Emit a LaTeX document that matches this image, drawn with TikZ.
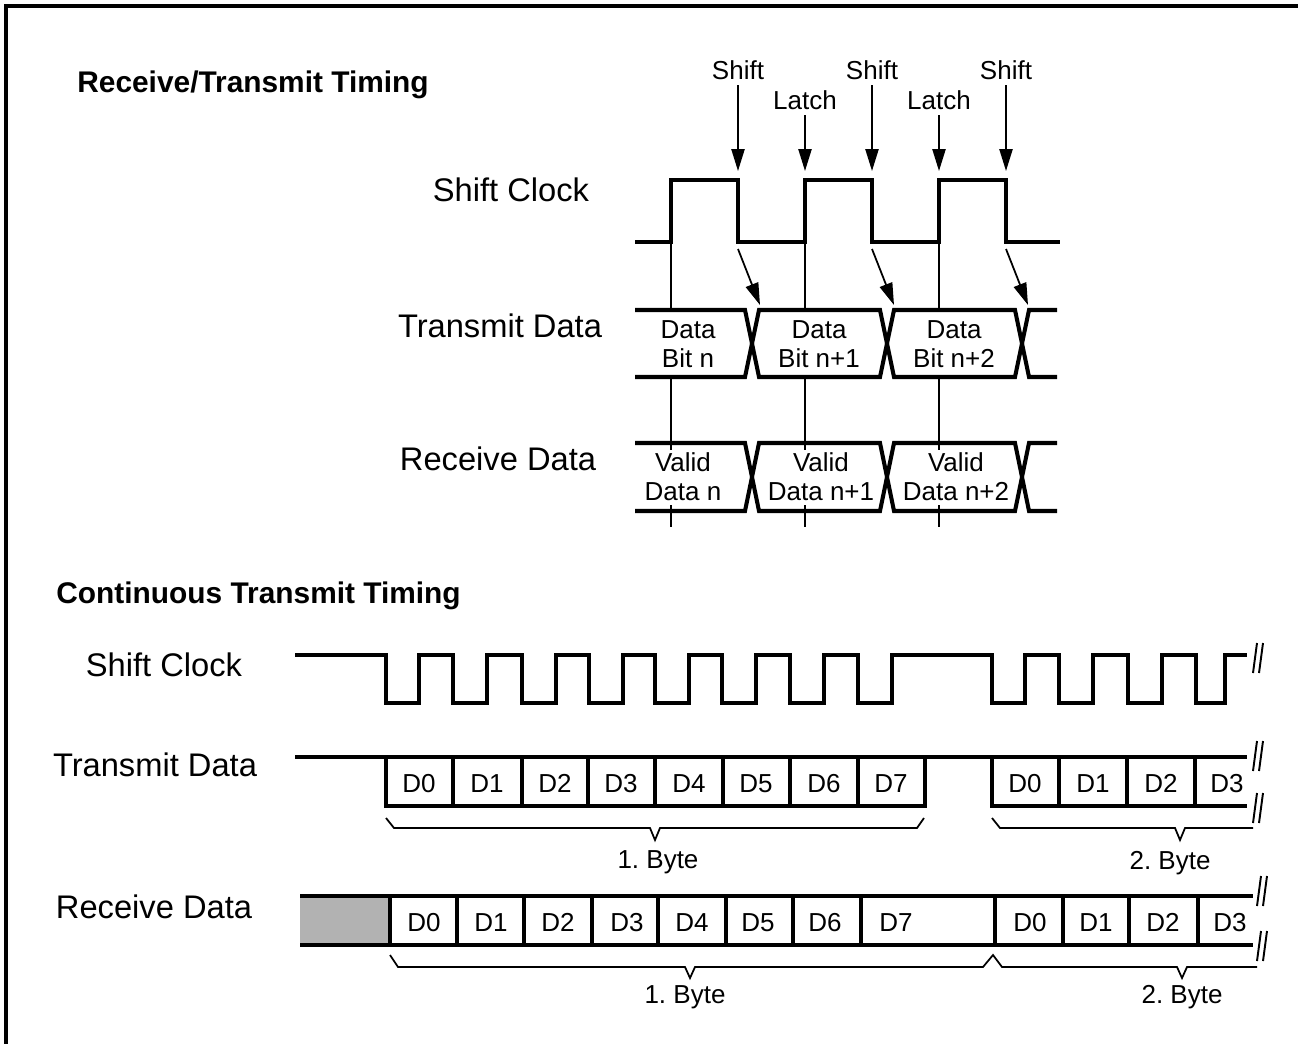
\documentclass[tikz,border=0pt]{standalone}
\usepackage{fontspec}
\setmainfont{Liberation Sans}
\usetikzlibrary{arrows.meta}
\frenchspacing
\begin{document}
\begin{tikzpicture}[x=0.02cm,y=-0.02cm,
  sig/.style={line width=2.3pt},
  thinline/.style={line width=1pt},
  brk/.style={line width=1.1pt},
  brace/.style={line width=1pt},
  arr/.style={line width=1pt,-{Triangle[length=12.5pt,width=7.5pt]}},
  big/.style={font=\fontsize{18.6}{22}\selectfont,inner sep=0pt},
  lbl/.style={font=\fontsize{14.8}{16.4}\selectfont,inner sep=0pt,align=center},
  dlbl/.style={font=\fontsize{14.8}{16.4}\selectfont,inner sep=0pt,text height=10.6pt,text depth=0pt},
  ttl/.style={font=\fontsize{17}{20}\selectfont\bfseries,inner sep=0pt,anchor=west},
]
\useasboundingbox (0,0) rectangle (1298,1044);
% frame
\draw[line width=1.8pt] (6,1044) -- (6,6) -- (1298,6);

% ---------------- titles ----------------
\node[ttl] (t1) at (77,85) {Receive/Transmit Timing};
\node[ttl] (t2) at (56,596) {Continuous Transmit Timing};

% ---------------- top section ----------------
\node[big] (sc1) at (511,190) {Shift Clock};
\node[big] (td1) at (500,326) {Transmit Data};
\node[big] (rd1) at (498,459) {Receive Data};

% clock
\draw[sig] (635,242) -- (671,242) -- (671,180) -- (738,180) -- (738,242) -- (805,242) -- (805,180) -- (872,180) -- (872,242) -- (939,242) -- (939,180) -- (1006,180) -- (1006,242) -- (1060,242);

% transmit bus
\draw[sig] (635,310) -- (745,310) -- (759,377) -- (880,377) -- (894,310) -- (1015,310) -- (1029,377) -- (1057,377);
\draw[sig] (635,377) -- (745,377) -- (759,310) -- (880,310) -- (894,377) -- (1015,377) -- (1029,310) -- (1057,310);
% receive bus
\draw[sig] (635,443) -- (745,443) -- (759,511) -- (880,511) -- (894,443) -- (1015,443) -- (1029,511) -- (1057,511);
\draw[sig] (635,511) -- (745,511) -- (759,443) -- (880,443) -- (894,511) -- (1015,511) -- (1029,443) -- (1057,443);

% vertical markers at rising edges
\foreach \x in {671,805,939}{
  \draw[thinline] (\x,242) -- (\x,310);
  \draw[thinline] (\x,377) -- (\x,450);
  \draw[thinline] (\x,505) -- (\x,527);
}

% data labels
\node[lbl] (db0) at (688,344) {Data\\Bit n};
\node[lbl] (db1) at (819,344) {Data\\Bit n+1};
\node[lbl] (db2) at (954,344) {Data\\Bit n+2};
\node[lbl] (vd0) at (683,477) {Valid\\Data n};
\node[lbl] (vd1) at (821,477) {Valid\\Data n+1};
\node[lbl] (vd2) at (956,477) {Valid\\Data n+2};

% shift / latch labels and arrows
\node[lbl] (sh1) at (738,70) {Shift};
\node[lbl] (sh2) at (872,70) {Shift};
\node[lbl] (sh3) at (1006,70) {Shift};
\node[lbl] (la1) at (805,100) {Latch};
\node[lbl] (la2) at (939,100) {Latch};
\coordinate (esh1) at (738,171);
\coordinate (esh2) at (872,171);
\coordinate (esh3) at (1006,171);
\coordinate (ela1) at (805,171);
\coordinate (ela2) at (939,171);
\draw[arr] ([yshift=-3pt]sh1.south) -- (esh1);
\draw[arr] ([yshift=-3pt]sh2.south) -- (esh2);
\draw[arr] ([yshift=-3pt]sh3.south) -- (esh3);
\draw[arr] ([yshift=-3pt]la1.south) -- (ela1);
\draw[arr] ([yshift=-3pt]la2.south) -- (ela2);

% diagonal arrows from falling edges to crossings
\coordinate (f1) at (738,249);
\coordinate (f2) at (872,249);
\coordinate (f3) at (1006,249);
\coordinate (x1) at (760,305);
\coordinate (x2) at (894,305);
\coordinate (x3) at (1028,305);
\draw[arr] (f1) -- (x1);
\draw[arr] (f2) -- (x2);
\draw[arr] (f3) -- (x3);

% ---------------- bottom section ----------------
\node[big] (sc2) at (164,665) {Shift Clock};
\node[big] (td2) at (155,765) {Transmit Data};
\node[big] (rd2) at (154,907) {Receive Data};

% clock
\draw[sig] (295,655) -- (386,655) -- (386,703) -- (419,703) -- (419,655) -- (453,655) -- (453,703) -- (487,703) -- (487,655) -- (522,655) -- (522,703) -- (556,703) -- (556,655) -- (589,655) -- (589,703) -- (623,703) -- (623,655) -- (655,655) -- (655,703) -- (689,703) -- (689,655) -- (722,655) -- (722,703) -- (756,703) -- (756,655) -- (790,655) -- (790,703) -- (824,703) -- (824,655) -- (858,655) -- (858,703) -- (892,703) -- (892,655) -- (992,655) -- (992,703) -- (1025,703) -- (1025,655) -- (1059,655) -- (1059,703) -- (1093,703) -- (1093,655) -- (1128,655) -- (1128,703) -- (1162,703) -- (1162,655) -- (1196,655) -- (1196,703) -- (1225,703) -- (1225,655) -- (1247,655);

% transmit data
\draw[sig] (295,757) -- (1247,757);
\draw[sig] (386,757) -- (386,806) -- (925,806) -- (925,757);
\foreach \x in {453,522,588,655,723,790,858}{\draw[sig] (\x,757) -- (\x,806);}
\draw[sig] (992,757) -- (992,806) -- (1247,806);
\foreach \x in {1059,1127,1195}{\draw[sig] (\x,757) -- (\x,806);}
\foreach \x/\t [count=\i] in {419/D0,487/D1,555/D2,621/D3,689/D4,756/D5,824/D6,891/D7,1025/D0,1093/D1,1161/D2,1227/D3}{
  \node[dlbl] (tx\i) at (\x,783) {\t};
}

% receive data
\fill[gray!60] (300,896) rectangle (390,945);
\draw[sig] (300,896) -- (1253,896);
\draw[sig] (300,945) -- (1253,945);
\foreach \x in {390,457,524,592,658,726,793,861,995,1063,1129,1198}{\draw[sig] (\x,896) -- (\x,945);}
\foreach \x/\t [count=\i] in {424/D0,491/D1,558/D2,627/D3,692/D4,758/D5,825/D6,896/D7,1030/D0,1096/D1,1163/D2,1230/D3}{
  \node[dlbl] (rx\i) at (\x,922) {\t};
}

% braces
\draw[brace] (386,818) -- (394,828) -- (650,828) -- (655,840) -- (660,828) -- (917,828) -- (924,818);
\draw[brace] (992,818) -- (1000,828) -- (1175,828) -- (1180,840) -- (1185,828) -- (1253,828);
\draw[brace] (390,955) -- (398,967) -- (685,967) -- (690,978) -- (695,967) -- (983,967) -- (993,955) -- (1002,967) -- (1177,967) -- (1182,978) -- (1187,967) -- (1257,967);
\node[lbl] (b1) at (658,862) {1. Byte};
\node[lbl] (b2) at (1170,863) {2. Byte};
\node[lbl] (b3) at (685,997) {1. Byte};
\node[lbl] (b4) at (1182,997) {2. Byte};

% break marks
\foreach \xa/\ya in {1253/673,1253/771,1253/823,1257/906,1257/961}{
  \draw[brk] (\xa,\ya) -- ++(4,-30);
  \draw[brk] (\xa+6,\ya) -- ++(4,-30);
}
\end{tikzpicture}
\end{document}
